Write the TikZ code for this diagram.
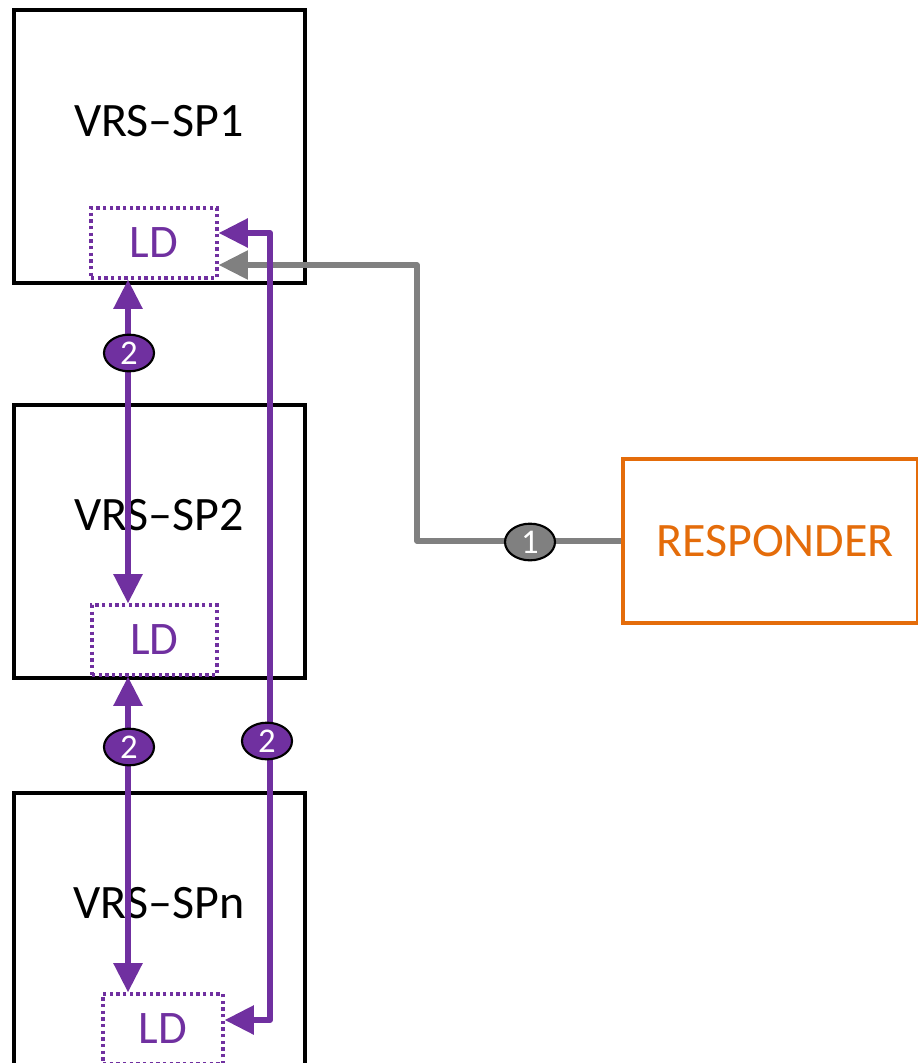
\documentclass[tikz,border=0pt]{standalone}
\usepackage{fontspec}
\setmainfont{Carlito}
\usetikzlibrary{arrows.meta,shapes.geometric}
\definecolor{vpurple}{HTML}{7030A0}
\definecolor{vorange}{HTML}{E46C0A}
\definecolor{vgray}{HTML}{808080}
\tikzset{
  spbox/.style={draw=black, line width=3pt, minimum width=218.25pt, minimum height=204.75pt, inner sep=0pt},
  ldbox/.style={draw=vpurple, line width=2.4pt, dash pattern=on 2.4pt off 2.6pt, minimum height=52.5pt, inner sep=0pt, text=vpurple, font=\fontsize{35}{40}\selectfont},
  lbl/.style={font=\fontsize{36}{42}\selectfont},
  badge/.style={ellipse, draw=black, line width=1.6pt, minimum width=37.5pt, minimum height=27.5pt, inner sep=0pt, text=white, font=\fontsize{26}{28}\selectfont},
  parr/.style={draw=vpurple, line width=4.4pt, {Triangle[length=22pt,width=21pt]}-{Triangle[length=22pt,width=21pt]}},
  garr/.style={draw=vgray, line width=4.2pt, -{Triangle[length=22pt,width=21pt]}},
}
\begin{document}
\begin{tikzpicture}[x=0.75pt,y=-0.75pt]
\useasboundingbox (0,0) rectangle (917,1063);
% boxes
\node[spbox] (sp1) at (159.5,146.5) {};
\node[spbox] (sp2) at (159.5,541.5) {};
\node[spbox] (spn) at (159.5,929.5) {};
\node[lbl] (t1) at (159,121) {VRS–SP1};
\node[lbl] (t2) at (159,515) {VRS–SP2};
\node[lbl] (tn) at (159,903) {VRS–SPn};
\node[ldbox, minimum width=94.5pt] (ld1) at (154,243) {LD};
\node[ldbox, minimum width=93.75pt] (ld2) at (154.5,640) {LD};
\node[ldbox, minimum width=90pt] (ldn) at (163,1029) {LD};
\node[draw=vorange, line width=3pt, minimum width=221pt, minimum height=123pt] (resp) at (770.5,541) {};
\node[text=vorange, font=\fontsize{36}{42}\selectfont] (respt) at (775,541) {RESPONDER};
% coordinates
\coordinate (cx) at (128,0);
\coordinate (rx) at (270,600);
\coordinate (gx) at (417,400);
% gray connector
\draw[garr, line join=round] (resp.west) -| (gx) |- ([yshift=-16.5pt]ld1.east);
% purple connectors
\draw[parr] (cx |- ld1.south) -- (cx |- ld2.north);
\draw[parr] (cx |- ld2.south) -- (cx |- ldn.north);
\draw[parr, line join=round] ([yshift=7.5pt]ld1.east) -| (rx) |- ([yshift=6.75pt]ldn.east);
% badges
\node[badge, fill=vgray] (b1) at (530,542) {1};
\node[badge, fill=vpurple] (b2) at (129,353) {2};
\node[badge, fill=vpurple] (b3) at (129,747) {2};
\node[badge, fill=vpurple] (b4) at (267,741) {2};
\end{tikzpicture}
\end{document}
